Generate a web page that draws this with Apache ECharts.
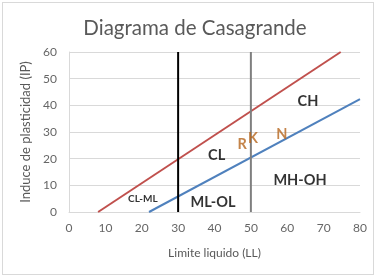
<!DOCTYPE html>
<html><head><meta charset="utf-8">
<script src="https://cdn.jsdelivr.net/npm/echarts@6/dist/echarts.min.js"></script>
<style>
html,body{margin:0;padding:0;background:#fff;}
#frame{position:absolute;left:2px;top:2px;width:370px;height:271px;border:1px solid #d9d9d9;}
#c{position:absolute;left:0;top:0;width:377px;height:276px;}
</style></head>
<body><div id="frame"></div><div id="c"></div>
<script>
const titleText = 'Diagrama de Casagrande';
const xName = 'Limite liquido (LL)';
const yName = 'Induce de plasticidad (IP)';
const uLineX = [8, 74.7];
const uLineY = [0, 60];
const aLineX = [22, 80];
const aLineY = [0, 42.3];
const ll30X = [30, 30];
const ll30Y = [0, 60];
const ll50X = [50, 50];
const ll50Y = [0, 60];
const zoneNames = ['CL', 'CH', 'ML-OL', 'MH-OH'];
const zoneX = [40.6, 65.7, 39.6, 63.5];
const zoneY = [21.3, 41.6, 3.7, 12];
const smallZoneNames = ['CL-ML'];
const smallZoneX = [20.3];
const smallZoneY = [4.9];
const sampleNames = ['R', 'K', 'N'];
const sampleX = [47.6, 50.6, 58.5];
const sampleY = [25.5, 27.7, 29.2];

const pts = (xs, ys) => xs.map((x, i) => [x, ys[i]]);
const named = (names, xs, ys) => names.map((n, i) => ({name: n, value: [xs[i], ys[i]]}));
const FONT = 'Lato';
const chart = echarts.init(document.getElementById('c'));
const labelSeries = (data, size, color) => ({
  type: 'scatter', data, symbolSize: 1, itemStyle: {color: 'rgba(0,0,0,0)'}, silent: true, z: 5,
  label: {show: true, position: 'inside', formatter: p => p.name, fontFamily: FONT,
    fontWeight: 'bold', fontSize: size, color: color}
});
chart.setOption({
  animation: false,
  title: {text: titleText, left: 190, top: 13, textAlign: 'center',
    textStyle: {fontFamily: FONT, fontWeight: 'normal', fontSize: 20.5, color: '#595959'}},
  grid: {left: 69, right: 17, top: 52, bottom: 64},
  xAxis: {type: 'value', min: 0, max: 80, interval: 10,
    name: xName, nameLocation: 'middle', nameGap: 35,
    nameTextStyle: {fontFamily: FONT, fontSize: 12, color: '#595959'},
    axisLine: {show: true, lineStyle: {color: '#d9d9d9'}}, axisTick: {show: false},
    axisLabel: {fontFamily: FONT, fontSize: 12, color: '#666', margin: 10},
    splitLine: {show: false}},
  yAxis: {type: 'value', min: 0, max: 60, interval: 10,
    name: yName, nameLocation: 'middle', nameGap: 30,
    nameTextStyle: {fontFamily: FONT, fontSize: 13, color: '#595959'},
    axisLine: {show: true, lineStyle: {color: '#d9d9d9'}}, axisTick: {show: false},
    axisLabel: {fontFamily: FONT, fontSize: 12, color: '#666', margin: 12},
    splitLine: {show: true, lineStyle: {color: '#d9d9d9'}}},
  series: [
    {type: 'line', data: pts(uLineX, uLineY), symbol: 'none', lineStyle: {color: '#C0504D', width: 2}},
    {type: 'line', data: pts(aLineX, aLineY), symbol: 'none', lineStyle: {color: '#4F81BD', width: 2}},
    {type: 'line', data: pts(ll30X, ll30Y), symbol: 'none', lineStyle: {color: '#000000', width: 2}},
    {type: 'line', data: pts(ll50X, ll50Y), symbol: 'none', lineStyle: {color: '#7f7f7f', width: 2}},
    labelSeries(named(zoneNames, zoneX, zoneY), 14.5, '#000'),
    labelSeries(named(smallZoneNames, smallZoneX, smallZoneY), 10, '#000'),
    labelSeries(named(sampleNames, sampleX, sampleY), 14.5, '#B5651D')
  ]
});
</script></body></html>
